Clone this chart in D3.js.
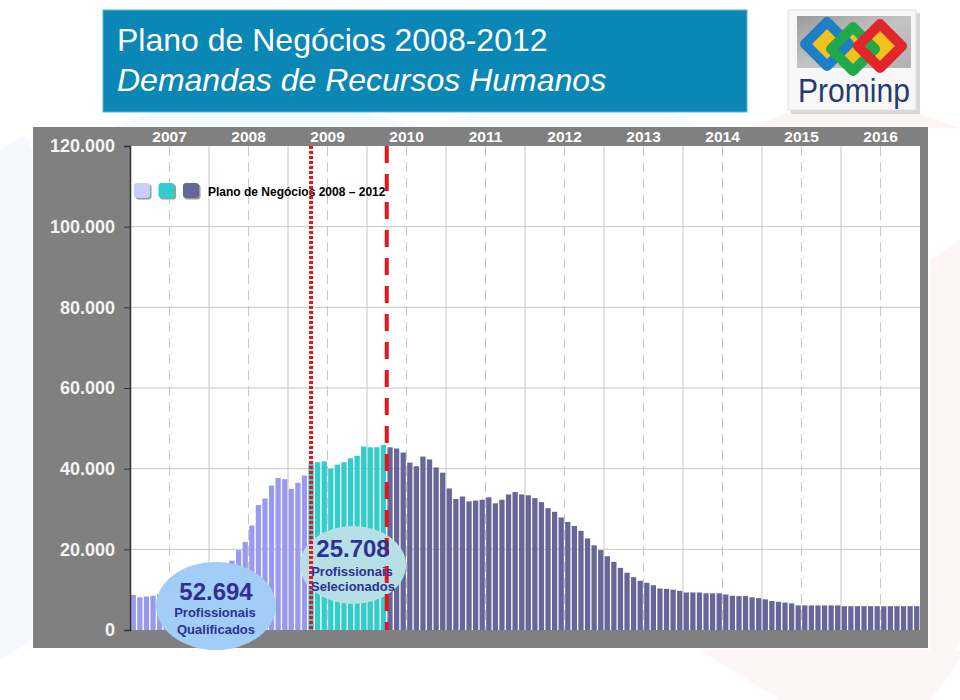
<!DOCTYPE html>
<html><head><meta charset="utf-8">
<script src="https://cdn.jsdelivr.net/npm/d3@7"></script>
<style>body{margin:0;background:#fff}svg{display:block}</style>
</head><body><svg id="c" width="960" height="700"></svg>
<script>
// ---------------- data ----------------
const years = ["2007","2008","2009","2010","2011","2012","2013","2014","2015","2016"];
const yTickValues = [0, 20000, 40000, 60000, 80000, 100000, 120000];
const yTickLabels = ["0", "20.000", "40.000", "60.000", "80.000", "100.000", "120.000"];
// monthly demand, Jan 2007 onward
const qualificados = [8700, 8100, 8300, 8500, 8900, 9000, 9200, 9400, 9700, 10100, 10600, 11300,
  12300, 13600, 15200, 17200, 19800, 21800, 25900, 31000, 32600, 35800, 37700, 37400,
  35000, 36500, 38300];
const selecionados = [41300, 41600, 41800, 40000, 41000, 41600, 42600, 43200, 45500, 45300, 45300, 45900];
const planoNegocios = [45300, 45000, 44000, 41500, 40600, 43000, 42300, 40300, 39000, 35100,
  32500, 33100, 31900, 32100, 32300, 32900, 31400, 32300, 33600, 34200, 33600, 33400,
  32700, 31700, 30200, 29300, 27900, 26800, 25800, 24600, 22700, 21000, 19800, 18300,
  16900, 15400, 14200, 13100, 12200, 11700, 11100, 10300, 10200, 10000, 9700, 9300,
  9300, 9300, 9100, 9100, 9100, 8800, 8500, 8400, 8400, 8100, 7900, 7600, 7200, 7000,
  6800, 6600, 6100, 6100, 6100, 6100, 6100, 6100, 6100, 5900, 5900, 5900, 5900, 5900,
  5900, 5900, 5900, 5900, 5900, 5900, 5900];
const seriesNames = ["qualificados", "selecionados", "plano"];
const seriesColors = ["#9999ee", "#33cccc", "#666699"];
const legendColors = ["#ccccff", "#33cccc", "#666699"];
const legendText = "Plano de Negócios 2008 – 2012";
const bubbles = [
  {value: "52.694", l1: "Profissionais", l2: "Qualificados"},
  {value: "25.708", l1: "Profissionais", l2: "Selecionados"}
];

// ---------------- build ----------------
const months = years.flatMap(y => d3.range(1, 13).map(m => y + "-" + m));
const bars = [];
qualificados.forEach(v => bars.push({s: 0, v}));
selecionados.forEach(v => bars.push({s: 1, v}));
planoNegocios.forEach(v => bars.push({s: 2, v}));
bars.forEach((b, i) => b.m = months[i]);

const svg = d3.select("#c");
const L = 130, R = 920, T = 146, B = 630;
const x = d3.scaleBand().domain(months).range([L, R]).paddingInner(0.2).paddingOuter(0.1);
const xy = d3.scaleBand().domain(years).range([L, R]);
const y = d3.scaleLinear().domain([0, 120000]).range([B, T]);

// faint watermark background
const bg = svg.append("g");
bg.append("polygon").attr("points", "0,150 25,135 32,150 32,640 0,660").attr("fill", "#f5f8fc");
bg.append("polygon").attr("points", "110,128 250,80 420,128").attr("fill", "#f4f9fb");
bg.append("polygon").attr("points", "430,128 600,70 700,128").attr("fill", "#f8fbfc");
bg.append("polygon").attr("points", "748,128 850,90 960,128").attr("fill", "#fdf4f4");
bg.append("polygon").attr("points", "930,260 960,240 960,640 930,700").attr("fill", "#fdf5f5");
bg.append("polygon").attr("points", "700,650 780,700 930,700 960,660 960,650").attr("fill", "#fdf6f6");

// title banner
svg.append("rect").attr("x", 103).attr("y", 10).attr("width", 644).attr("height", 102)
  .attr("fill", "#0b87b6").attr("stroke", "#5cb3d3").attr("stroke-width", 1);
svg.append("text").attr("x", 117).attr("y", 51).text("Plano de Negócios 2008-2012")
  .attr("font-family", "Liberation Sans, Arial, sans-serif").attr("font-size", 32).attr("fill", "#fff");
svg.append("text").attr("x", 117).attr("y", 91).text("Demandas de Recursos Humanos")
  .attr("font-family", "Liberation Sans, Arial, sans-serif").attr("font-style", "italic")
  .attr("font-size", 32).attr("fill", "#fff");

// logo
const logo = svg.append("g");
const defs = svg.append("defs");
const lg = defs.append("linearGradient").attr("id", "stone").attr("x1", 0).attr("y1", 0).attr("x2", 1).attr("y2", 1);
lg.append("stop").attr("offset", 0).attr("stop-color", "#9a9a9a");
lg.append("stop").attr("offset", 0.5).attr("stop-color", "#c4c4c4");
lg.append("stop").attr("offset", 1).attr("stop-color", "#b0b0b0");
logo.append("rect").attr("x", 791).attr("y", 13).attr("width", 129).attr("height", 101).attr("fill", "#d8d8d8");
logo.append("rect").attr("x", 788).attr("y", 10).attr("width", 128).attr("height", 100).attr("fill", "#f7f7f7").attr("stroke", "#e0e0e0");
logo.append("rect").attr("x", 797).attr("y", 16).attr("width", 114).attr("height", 52).attr("fill", "url(#stone)");
function diamond(cx, cy, r) { return `M${cx},${cy - r}L${cx + r},${cy}L${cx},${cy + r}L${cx - r},${cy}Z`; }
const dias = [{cx: 827, cy: 44, c: "#1f7fc4"}, {cx: 853, cy: 49, c: "#22a84a"}, {cx: 880, cy: 46, c: "#e0262b"}];
dias.forEach(d => logo.append("path").attr("d", diamond(d.cx, d.cy, 15)).attr("fill", "#f3c21a"));
dias.forEach(d => logo.append("path").attr("d", diamond(d.cx, d.cy, 22)).attr("fill", "none")
  .attr("stroke", d.c).attr("stroke-width", 10).attr("stroke-linejoin", "round"));
logo.append("text").attr("x", 798).attr("y", 102).text("Prominp")
  .attr("font-family", "Liberation Sans, Arial, sans-serif").attr("font-size", 33)
  .attr("textLength", 112).attr("lengthAdjust", "spacingAndGlyphs").attr("fill", "#2b3a6b");

// chart panel
svg.append("rect").attr("x", 33).attr("y", 127).attr("width", 895).attr("height", 521).attr("fill", "#808080");
svg.append("rect").attr("x", L).attr("y", T).attr("width", R - L).attr("height", B - T).attr("fill", "#fff");

// grid
const grid = svg.append("g").attr("stroke", "#c6c6c6").attr("stroke-width", 1);
yTickValues.filter(v => v > 0 && v < 120000).forEach(v =>
  grid.append("line").attr("x1", L).attr("x2", R).attr("y1", y(v)).attr("y2", y(v)));
years.forEach((yr, i) => {
  const cx = xy(yr) + xy.bandwidth() / 2;
  grid.append("line").attr("x1", cx).attr("x2", cx).attr("y1", T).attr("y2", B).attr("stroke-dasharray", "10,6");
  if (i > 0) grid.append("line").attr("x1", xy(yr)).attr("x2", xy(yr)).attr("y1", T).attr("y2", B);
});

// bars
svg.append("g").selectAll("rect").data(bars).join("rect")
  .attr("x", d => x(d.m)).attr("width", x.bandwidth())
  .attr("y", d => y(d.v)).attr("height", d => B - y(d.v))
  .attr("fill", d => seriesColors[d.s]);

// y axis
const yAxis = d3.axisLeft(y).tickValues(yTickValues).tickSize(6).tickPadding(9)
  .tickFormat((d, i) => yTickLabels[i]);
const ya = svg.append("g").attr("transform", `translate(${L},0)`).call(yAxis);
ya.select(".domain").attr("stroke", "#333").attr("stroke-width", 1.5);
ya.selectAll(".tick line").attr("stroke", "#333");
ya.selectAll(".tick text").attr("fill", "#f4f4f4").attr("font-size", 18).attr("font-weight", "bold")
  .attr("font-family", "Liberation Sans, Arial, sans-serif");

// year labels on top
const xa = svg.append("g").attr("transform", `translate(0,${T})`)
  .call(d3.axisTop(xy).tickSize(0).tickPadding(4));
xa.select(".domain").remove();
xa.selectAll(".tick text").attr("fill", "#fff").attr("font-size", 15.5).attr("font-weight", "bold")
  .attr("font-family", "Liberation Sans, Arial, sans-serif");

// legend
const leg = svg.append("g");
legendColors.forEach((c, i) => {
  const lx = 134 + i * 24.5;
  leg.append("rect").attr("x", lx + 1.5).attr("y", 184.5).attr("width", 16).attr("height", 15).attr("rx", 3).attr("fill", "#9a9a9a");
  leg.append("rect").attr("x", lx).attr("y", 183).attr("width", 16).attr("height", 15).attr("rx", 3).attr("fill", c);
});
leg.append("text").attr("x", 208).attr("y", 196).text(legendText)
  .attr("font-family", "Liberation Sans, Arial, sans-serif").attr("font-size", 12)
  .attr("font-weight", "bold").attr("fill", "#000");

// bubbles (ellipses)
const ell1 = {cx: 216, cy: 606, rx: 60, ry: 44, fill: "#a2cdf7"};
const ell2 = {cx: 353, cy: 565, rx: 53, ry: 39, fill: "#b6dfe6"};
[ell1, ell2].forEach(e => svg.append("ellipse").attr("cx", e.cx).attr("cy", e.cy)
  .attr("rx", e.rx).attr("ry", e.ry).attr("fill", e.fill));

// red markers
const xDot = x(months[27]) + x.bandwidth() / 2;
const xDash = x(months[39]) - x.step() * x.paddingInner() / 2;
svg.append("line").attr("x1", xDot).attr("x2", xDot).attr("y1", T).attr("y2", B)
  .attr("stroke", "#e8141c").attr("stroke-width", 4).attr("stroke-dasharray", "3,2");
svg.append("line").attr("x1", xDash).attr("x2", xDash).attr("y1", T).attr("y2", B)
  .attr("stroke", "#e8141c").attr("stroke-width", 4).attr("stroke-dasharray", "17,11");

// bubble texts
const tcol = "#2e3192";
[[ell1, bubbles[0], 600, 617, 634], [ell2, bubbles[1], 557, 576, 591]].forEach(([e, b, y0, y1, y2]) => {
  const g = svg.append("g").attr("font-family", "Liberation Sans, Arial, sans-serif")
    .attr("font-weight", "bold").attr("fill", tcol).attr("text-anchor", "middle");
  g.append("text").attr("x", e.cx).attr("y", y0).attr("font-size", 24).text(b.value);
  g.append("text").attr("x", e.cx - 1).attr("y", y1).attr("font-size", 13).text(b.l1);
  g.append("text").attr("x", e.cx).attr("y", y2).attr("font-size", 13).text(b.l2);
});
</script></body></html>
